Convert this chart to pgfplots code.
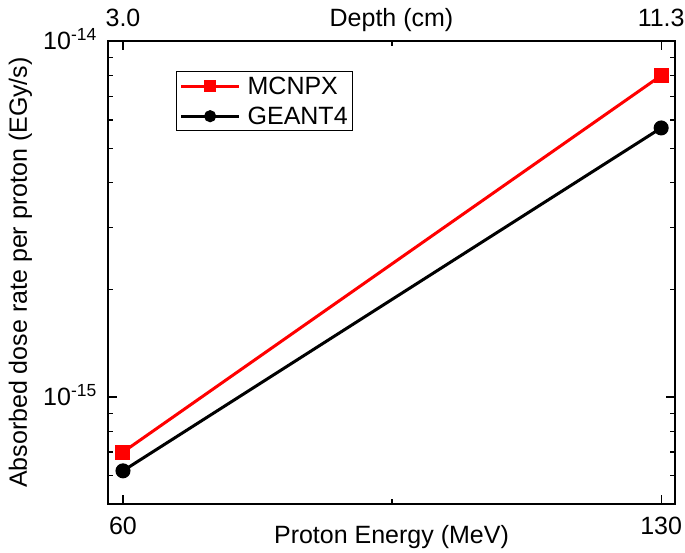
\documentclass[border=0pt]{standalone}
\usepackage{fontspec}
\setmainfont{Liberation Sans}
\usepackage{pgfplots}
\pgfplotsset{compat=1.18}
\newcommand{\ff}{\fontsize{25}{29}\selectfont}
\begin{document}
\begin{tikzpicture}
\begin{axis}[
  name=main,
  scale only axis,
  width=567pt, height=463pt,
  ymode=log,
  xmin=58.05, xmax=131.8,
  ymin=5e-16, ymax=1e-14,
  font=\ff,
  axis line style={line width=1.3pt},
  every tick/.style={black, line width=1.2pt},
  major tick length=9pt,
  minor tick length=5pt,
  tick align=inside,
  xtick={60,130},
  xticklabels={60,130},
  minor xtick={95},
  xtick pos=bottom,
  ytick={1e-15,1e-14},
  yticklabels={10\textsuperscript{-15},10\textsuperscript{-14}},
  minor ytick={5e-16,6e-16,7e-16,8e-16,9e-16,2e-15,3e-15,4e-15,5e-15,6e-15,7e-15,8e-15,9e-15},
  xticklabel style={anchor=base, inner sep=0pt, yshift=-30pt},
  yticklabel style={anchor=base east, inner sep=0pt, xshift=-11pt, yshift=-8.5pt},
  xlabel={Proton Energy (MeV)},
  xlabel style={at={(axis description cs:0.5,0)}, anchor=base, yshift=-39pt},
  ylabel={Absorbed dose rate per proton (EGy/s)},
  ylabel style={at={(axis description cs:-0.1429,0.5)}, anchor=base, rotate=0},
  legend style={at={(axis description cs:0.12,0.935)}, anchor=north west,
    draw=black, line width=1.2pt, font=\ff, inner sep=3pt, row sep=7pt,
    /tikz/every odd column/.append style={column sep=5pt}},
  legend cell align=left,
  legend image code/.code={\draw[mark repeat=2,mark phase=2,#1,line width=3pt,mark size=4.5pt]
     plot coordinates {(0pt,0pt) (29pt,0pt) (58pt,0pt)};},
]
\addplot[red, line width=3pt, mark=square*, mark size=6pt, mark options={solid}]
  coordinates {(60,7.0e-16) (130,8.0e-15)};
\addlegendentry{MCNPX\hspace{14pt}}
\addplot[black, line width=3pt, mark=*, mark size=6pt, mark options={solid}]
  coordinates {(60,6.2e-16) (130,5.7e-15)};
\addlegendentry{GEANT4\hspace{14pt}}
\end{axis}
\begin{axis}[
  scale only axis,
  width=567pt, height=463pt,
  xmin=58.05, xmax=131.8,
  ymin=0, ymax=1,
  font=\ff,
  axis x line*=top,
  axis y line=none,
  axis line style={line width=1.3pt},
  every tick/.style={black, line width=1.2pt},
  major tick length=9pt,
  minor tick length=5pt,
  tick align=inside,
  xtick={60,130},
  xticklabels={3.0,11.3},
  minor xtick={95},
  xticklabel style={anchor=base, inner sep=0pt, yshift=14pt},
  xlabel={Depth (cm)},
  xlabel style={at={(axis description cs:0.5,1)}, anchor=base, yshift=14pt},
]
\end{axis}
\pgfresetboundingbox
\path (main.south west) +(-108pt,-48pt) rectangle +(577pt,504pt);
\end{tikzpicture}
\end{document}
